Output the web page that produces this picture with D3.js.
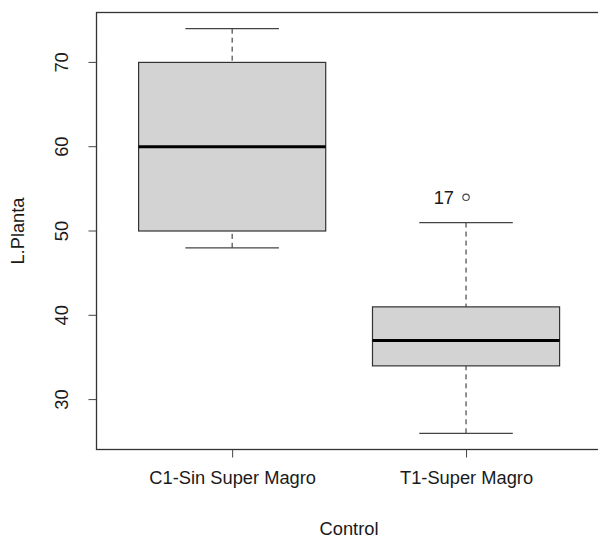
<html>
    <head>
        <title>Boxplot L.Planta</title>
        <script src="https://cdnjs.cloudflare.com/ajax/libs/d3/7.8.5/d3.min.js"></script>
        <style>
            body { margin: 0; background: #fff; }
            text { font-family: "Liberation Sans", Arial, sans-serif; fill: #1a1a1a; }
        </style>
    </head>
    <body>
        <svg width="598" height="540"></svg>
        <script>
            // groups and their five-number summaries
            var groups = ["C1-Sin Super Magro", "T1-Super Magro"];
            var lowWhisker = [48, 26];
            var q1 = [50, 34];
            var median = [60, 37];
            var q3 = [70, 41];
            var highWhisker = [74, 51];
            // outliers: group index, value, label
            var outGroup = [1];
            var outValue = [54];
            var outLabel = ["17"];
            var yTicks = [30, 40, 50, 60, 70];

            var fs = "18.3px";
            var svg = d3.select("svg");

            // R style: range extended by 4%
            var x = d3.scaleLinear().domain([0.42, 2.58]).range([96.5, 601.7]);
            var y = d3.scaleLinear().domain([24.08, 75.92]).range([449.5, 12.5]);
            var unit = x(2) - x(1);
            var boxW = 0.8 * unit;

            var stats = groups.map((g, i) => ({
                name: g, pos: i + 1,
                lo: lowWhisker[i], q1: q1[i], med: median[i], q3: q3[i], hi: highWhisker[i]
            }));

            var g = svg.append("g");

            // whiskers (dashed)
            g.selectAll(".wlo").data(stats).enter().append("line")
                .attr("x1", d => x(d.pos)).attr("x2", d => x(d.pos))
                .attr("y1", d => y(d.lo)).attr("y2", d => y(d.q1))
                .attr("stroke", "#222").attr("stroke-dasharray", "5,4");
            g.selectAll(".whi").data(stats).enter().append("line")
                .attr("x1", d => x(d.pos)).attr("x2", d => x(d.pos))
                .attr("y1", d => y(d.hi)).attr("y2", d => y(d.q3))
                .attr("stroke", "#222").attr("stroke-dasharray", "5,4");

            // caps
            g.selectAll(".capLo").data(stats).enter().append("line")
                .attr("x1", d => x(d.pos) - boxW / 4).attr("x2", d => x(d.pos) + boxW / 4)
                .attr("y1", d => y(d.lo)).attr("y2", d => y(d.lo))
                .attr("stroke", "#444").attr("stroke-width", 1.3);
            g.selectAll(".capHi").data(stats).enter().append("line")
                .attr("x1", d => x(d.pos) - boxW / 4).attr("x2", d => x(d.pos) + boxW / 4)
                .attr("y1", d => y(d.hi)).attr("y2", d => y(d.hi))
                .attr("stroke", "#444").attr("stroke-width", 1.3);

            // boxes
            g.selectAll("rect").data(stats).enter().append("rect")
                .attr("x", d => x(d.pos) - boxW / 2)
                .attr("width", boxW)
                .attr("y", d => y(d.q3))
                .attr("height", d => y(d.q1) - y(d.q3))
                .attr("fill", "#d3d3d3")
                .attr("stroke", "#333").attr("stroke-width", 1.2);

            // medians
            g.selectAll(".med").data(stats).enter().append("line")
                .attr("x1", d => x(d.pos) - boxW / 2).attr("x2", d => x(d.pos) + boxW / 2)
                .attr("y1", d => y(d.med)).attr("y2", d => y(d.med))
                .attr("stroke", "#000").attr("stroke-width", 3);

            // outliers
            outValue.forEach((v, i) => {
                var cx = x(outGroup[i] + 1);
                g.append("circle")
                    .attr("cx", cx).attr("cy", y(v)).attr("r", 3.2)
                    .attr("fill", "none").attr("stroke", "#444").attr("stroke-width", 1.1);
                g.append("text")
                    .attr("x", cx - 12).attr("y", y(v))
                    .attr("dy", "0.35em")
                    .attr("text-anchor", "end")
                    .style("font-size", fs)
                    .text(outLabel[i]);
            });

            // plot frame
            svg.append("rect")
                .attr("x", 96.5).attr("y", 12.5)
                .attr("width", 601.7 - 96.5).attr("height", 449.5 - 12.5)
                .attr("fill", "none").attr("stroke", "#333").attr("stroke-width", 1.3);

            // y axis
            var yAxis = d3.axisLeft(y).tickValues(yTicks).tickSize(8).tickPadding(18);
            var ya = svg.append("g").attr("transform", "translate(96.5,0)").call(yAxis);
            ya.select(".domain").remove();
            ya.selectAll("line").attr("stroke", "#444");
            ya.selectAll("text")
                .attr("x", 0).attr("dy", 0)
                .attr("transform", d => "translate(-29," + y(d) + ") rotate(-90)")
                .attr("y", 0)
                .attr("text-anchor", "middle")
                .style("font-size", fs).style("font-family", "Liberation Sans, Arial, sans-serif")
                .attr("fill", "#1a1a1a");
            ya.selectAll(".tick").attr("transform", "translate(0,0)");
            ya.selectAll(".tick line").attr("y1", d => y(d)).attr("y2", d => y(d));

            // x axis
            var xAxis = d3.axisBottom(x).tickValues([1, 2]).tickFormat(d => groups[d - 1]).tickSize(8).tickPadding(14);
            var xa = svg.append("g").attr("transform", "translate(0,449.5)").call(xAxis);
            xa.select(".domain").remove();
            xa.selectAll("line").attr("stroke", "#444");
            xa.selectAll("text")
                .style("font-size", fs).style("font-family", "Liberation Sans, Arial, sans-serif")
                .attr("fill", "#1a1a1a");

            // axis titles
            svg.append("text")
                .attr("x", 349).attr("y", 535)
                .attr("text-anchor", "middle")
                .style("font-size", fs)
                .text("Control");
            svg.append("text")
                .attr("transform", "translate(24,231) rotate(-90)")
                .attr("text-anchor", "middle")
                .style("font-size", fs)
                .text("L.Planta");
        </script>
    </body>
</html>
